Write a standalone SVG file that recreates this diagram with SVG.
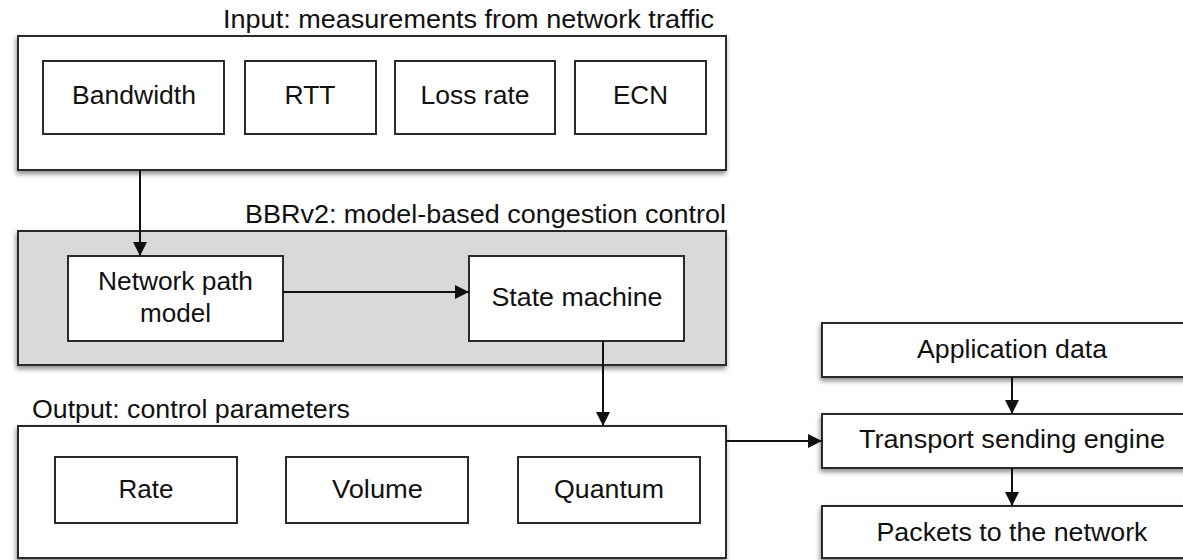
<svg xmlns="http://www.w3.org/2000/svg" width="1183" height="560" viewBox="0 0 1183 560">
<style>
text{font-family:"Liberation Sans",Arial,sans-serif;font-size:25px;fill:#111;}
.c{text-anchor:middle;}
.box{fill:#fff;stroke:#2a2a2a;stroke-width:2;}
.grp{fill:#fff;stroke:#2a2a2a;stroke-width:2;filter:url(#sh);}
.gray{fill:#d9d9d9;stroke:#2a2a2a;stroke-width:2;filter:url(#sh);}
.ln{fill:none;stroke:#111;stroke-width:2;marker-end:url(#ah);}
</style>
<defs>
<filter id="sh" x="-5%" y="-10%" width="110%" height="125%">
<feDropShadow dx="-1" dy="3" stdDeviation="2.5" flood-color="#000" flood-opacity="0.45"/>
</filter>
<marker id="ah" viewBox="0 0 14 14" refX="14" refY="7" markerWidth="14" markerHeight="14" markerUnits="userSpaceOnUse" orient="auto">
<path d="M0,0 L14,7 L0,14 z" fill="#111"/>
</marker>
</defs>
<rect width="1183" height="560" fill="#fff"/>

<g id="input">
<rect class="grp" x="18" y="36" width="708" height="134"/>
<text x="223" y="28" textLength="491" lengthAdjust="spacingAndGlyphs">Input: measurements from network traffic</text>
</g>
<g id="bandwidth"><rect class="box" x="43" y="61" width="181" height="73"/><text class="c" x="134" y="104" textLength="124" lengthAdjust="spacingAndGlyphs">Bandwidth</text></g>
<g id="rtt"><rect class="box" x="245" y="61" width="131" height="73"/><text class="c" x="310" y="104" textLength="51" lengthAdjust="spacingAndGlyphs">RTT</text></g>
<g id="lossrate"><rect class="box" x="395" y="61" width="160" height="73"/><text class="c" x="475" y="104" textLength="109" lengthAdjust="spacingAndGlyphs">Loss rate</text></g>
<g id="ecn"><rect class="box" x="575" y="61" width="131" height="73"/><text class="c" x="640.5" y="104" textLength="55" lengthAdjust="spacingAndGlyphs">ECN</text></g>

<g id="bbrv2">
<rect class="gray" x="18" y="231" width="708" height="134"/>
<text x="245" y="223" textLength="481" lengthAdjust="spacingAndGlyphs">BBRv2: model-based congestion control</text>
</g>
<g id="pathmodel"><rect class="box" x="68" y="256" width="215" height="85"/>
<text class="c" x="175.5" y="290" textLength="155" lengthAdjust="spacingAndGlyphs">Network path</text>
<text class="c" x="175.5" y="322" textLength="71" lengthAdjust="spacingAndGlyphs">model</text></g>
<g id="statemachine"><rect class="box" x="469" y="256" width="215" height="85"/>
<text class="c" x="577" y="306" textLength="171" lengthAdjust="spacingAndGlyphs">State machine</text></g>

<g id="output">
<rect class="grp" x="18" y="426" width="708" height="132"/>
<text x="32" y="418" textLength="318" lengthAdjust="spacingAndGlyphs">Output: control parameters</text>
</g>
<g id="rate"><rect class="box" x="55" y="457" width="182" height="66"/><text class="c" x="146" y="498" textLength="55" lengthAdjust="spacingAndGlyphs">Rate</text></g>
<g id="volume"><rect class="box" x="286" y="457" width="182" height="66"/><text class="c" x="377.5" y="498" textLength="91" lengthAdjust="spacingAndGlyphs">Volume</text></g>
<g id="quantum"><rect class="box" x="518" y="457" width="182" height="66"/><text class="c" x="609" y="498" textLength="110" lengthAdjust="spacingAndGlyphs">Quantum</text></g>

<g id="appdata"><rect class="grp" x="822" y="323" width="370" height="54"/><text class="c" x="1012" y="358" textLength="190" lengthAdjust="spacingAndGlyphs">Application data</text></g>
<g id="transport"><rect class="grp" x="822" y="414" width="370" height="54"/><text class="c" x="1012" y="448" textLength="306" lengthAdjust="spacingAndGlyphs">Transport sending engine</text></g>
<g id="packets"><rect class="grp" x="822" y="506" width="370" height="52"/><text class="c" x="1012" y="541" textLength="271" lengthAdjust="spacingAndGlyphs">Packets to the network</text></g>

<g id="connectors">
<path class="ln" d="M140,170 V256"/>
<path class="ln" d="M283,292 H469"/>
<path class="ln" d="M603,341 V426"/>
<path class="ln" d="M726,441 H822"/>
<path class="ln" d="M1012,377 V414"/>
<path class="ln" d="M1012,468 V506"/>
</g>
</svg>
